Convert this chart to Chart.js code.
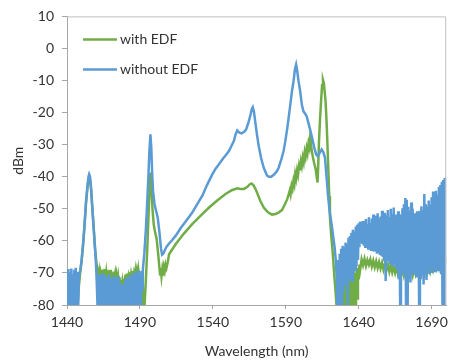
<!DOCTYPE html>
<html>
<head>
<meta charset="utf-8">
<script src="https://cdn.jsdelivr.net/npm/chart.js@4.4.0/dist/chart.umd.min.js"></script>
<style>
  body { margin: 0; background: #fff; }
</style>
</head>
<body>
<canvas id="spectrum" width="453" height="360"></canvas>
<script>
// axis ticks
const xTicks = [1440, 1490, 1540, 1590, 1640, 1690];
const yTicks = [-80, -70, -60, -50, -40, -30, -20, -10, 0, 10];
const seriesLabels = ['with EDF', 'without EDF'];

// with EDF : [wavelength nm, dBm]
const edfPeaks = [
  [1447,-85],[1447.3,-80],[1448,-75],[1449,-70],[1450,-66.5],[1451,-61.5],[1452,-55.5],[1453,-48.5],
  [1454,-43.5],[1454.8,-40.6],[1455.3,-40],[1455.9,-41],[1456.6,-44.5],[1457.4,-50],[1458.3,-56],
  [1459.2,-62],[1460.2,-67],[1461,-70]
];
const edfFloor = [
  [1461.5,-71],[1462,-69.5],[1462.5,-72],[1463,-70.2],[1463.5,-71.8],[1464,-69],[1464.5,-72.4],[1465,-70.4],
  [1465.5,-71.2],[1466,-68.8],[1466.5,-72],[1467,-69.8],[1467.5,-71.6],[1468,-69.2],[1468.5,-72.6],[1469,-70.6],
  [1469.5,-71.4],[1470,-69],[1470.5,-72.2],[1471,-70],[1471.5,-72.8],[1472,-69.6],[1472.5,-71.8],[1473,-70.4],
  [1473.5,-73],[1474,-70.8],[1474.5,-72.4],[1475,-71],[1475.5,-73.6],[1476,-71.4],[1476.5,-74],[1477,-72.2],
  [1477.5,-74.6],[1478,-72.6],[1478.5,-74.2],[1479,-71.8],[1479.5,-73.4],[1480,-70.6],[1480.5,-72.8],[1481,-70.2],
  [1481.5,-72],[1482,-71],[1482.5,-73],[1483,-69.8],[1483.5,-72.4],[1484,-70.4],[1484.5,-71.6],[1485,-69.4],
  [1485.5,-72],[1486,-70.2],[1486.5,-71.4],[1487,-69.6],[1487.5,-72.2],[1488,-70],[1488.5,-71.8],[1489,-69.2],
  [1489.5,-71],[1490,-70.4],[1490.5,-72.6],[1491,-71.5],[1491.5,-74],[1492,-78],[1492.5,-85]
];
const edfMain = [
  [1493.2,-80],[1494,-73],[1495,-63],[1496,-51],[1496.8,-42],[1497.3,-38.7],[1497.9,-43],[1498.6,-50],
  [1499.5,-55],[1500.5,-57.5],[1501.5,-59.5],[1502.5,-64],[1503.3,-68],[1503.8,-70.5],[1504.3,-68.5],
  [1504.8,-71],[1505.3,-69],[1505.8,-70.8],[1506.4,-68.2],[1507,-69.4],[1507.6,-67.4],[1508.2,-68.4],
  [1509,-66.8],[1510,-64.2],[1514.7,-60.9],[1520,-57.8],[1526,-54.7],[1532,-52],[1537.4,-49.6],[1543,-47.4],
  [1548.7,-45.4],[1553,-44.2],[1556.7,-43.6],[1559,-43.8],[1561.3,-43.8],[1563.5,-43.2],[1565.2,-42.4],
  [1566.5,-42.1],[1567.8,-42.6],[1569,-43.6],[1570.3,-44.9],[1572.5,-47.5],[1574.9,-49.6],[1577.8,-51.1],
  [1580.6,-51.8],[1583,-51.6],[1585,-51.2],[1587.4,-50.4],[1589.5,-48.5],[1591,-47],[1592,-45.5],
  [1592.8,-44.2],[1593.3,-45.4],[1594,-42.8],[1594.6,-43.8],[1595.3,-41.2],[1595.9,-42.4],[1596.5,-39.2],
  [1597.1,-40.6],[1597.8,-38],[1598.4,-39.4],[1599.1,-36.6],[1599.7,-38],[1600.4,-35.2],[1601,-36.6],
  [1601.7,-34],[1602.3,-35.4],[1603,-32.4],[1603.6,-33.8],[1604.3,-31.2],[1604.9,-32.6],[1605.6,-29.6],
  [1606.2,-30.8],[1606.7,-27.9],[1607.3,-30],[1608,-32.4],[1608.7,-34.1],[1609.5,-35.8],[1610.5,-37.6],
  [1611.2,-40],[1611.8,-41.8],[1612.3,-36],[1612.8,-28.9],[1613.5,-22],[1614.2,-16.5],[1614.9,-11.5],
  [1615.5,-9.8],[1616.1,-10.8],[1616.7,-13.5],[1617.3,-16.5],[1618,-23],[1618.5,-29],[1619.2,-38],
  [1619.8,-46],[1620.3,-52.7],[1621.2,-58.5],[1622,-62.5],[1622.6,-66.5],[1623.3,-71],[1624,-75],
  [1624.8,-80],[1625.2,-85]
];
const edfTail = [
  [1625.5,-76],[1626,-85],[1626.5,-75],[1627,-85],[1627.5,-74.4],[1628,-85],[1628.5,-73.6],[1629,-84],
  [1629.5,-73],[1630,-85],[1630.5,-72.6],[1631,-83],[1631.5,-73.2],[1632,-85],[1632.5,-72.2],[1633,-82],
  [1633.5,-71.8],[1634,-85],[1634.5,-71.4],[1635,-80],[1635.5,-70.8],[1636,-84],[1636.5,-70.6],[1637,-79],
  [1637.5,-70],[1638,-85],[1638.5,-69.4],[1639,-78],[1639.5,-68.4],[1640,-72],[1640.5,-67.4],[1641,-69],
  [1642,-65.8],[1643,-67.6],[1644,-65.6],[1645,-67.8],[1646,-66],[1647,-67.4],[1648,-65.8],[1649,-68],
  [1650,-66.2],[1651,-68.2],[1652,-66.4],[1653,-68.4],[1654,-66.6],[1655,-68.6],[1656,-66.8],[1657,-69],
  [1658,-67.2],[1659,-69.2],[1660,-67.4],[1661,-69.6],[1662,-67.6],[1663,-69.8],[1664,-68],[1665,-70],
  [1666,-68.2],[1667,-70.4],[1668,-68.4],[1669,-71],[1670,-68.6],[1671,-70.8],[1672,-68.8],[1673,-71.4],
  [1674,-68.6],[1675,-70.6],[1676,-68.8],[1677,-70.8],[1678,-68.6],[1679,-70.4],[1680,-68.8],[1681,-70.6],
  [1682,-68.4],[1683,-70.2],[1684,-68.6],[1685,-70.4],[1686,-68.2],[1687,-69.8],[1688,-67.8],[1689,-69.6],
  [1690,-67.6],[1691,-69.2],[1692,-67.4],[1693,-68.8],[1694,-67],[1695,-68.6],[1696,-66.6],[1697,-68],
  [1698,-66.2],[1699,-67.4],[1700,-65.6]
];

// without EDF : [wavelength nm, dBm]
const noEdfHead = [
  [1440,-69.5],[1440.5,-85],[1441,-68.8],[1441.5,-84],[1442,-69.8],[1442.5,-85],[1443,-68.6],[1443.5,-83],
  [1444,-70.4],[1444.5,-85],[1445,-69],[1445.5,-84],[1446,-68.4],[1446.5,-85],[1447,-69.6],[1447.5,-84],
  [1448.2,-71],[1449,-69.5],[1450,-66],[1451,-61],[1452,-55],[1453,-48],[1454,-43],[1454.7,-40],
  [1455.2,-39.2],[1455.8,-40],[1456.5,-43.5],[1457.2,-48.5],[1458,-54],[1459,-61],[1459.8,-66.5],
  [1460.4,-73],[1460.9,-80],[1461.3,-85]
];
const noEdfFloor = [
  [1462,-70.5],[1462.5,-85],[1463,-71.2],[1463.5,-85],[1464,-70.2],[1464.5,-84],[1465,-71.8],[1465.5,-85],
  [1466,-70.6],[1466.5,-85],[1467,-72],[1467.5,-83],[1468,-71],[1468.5,-85],[1469,-70.4],[1469.5,-85],
  [1470,-71.6],[1470.5,-84],[1471,-72.2],[1471.5,-85],[1472,-70.8],[1472.5,-85],[1473,-71.5],[1473.5,-82],
  [1474,-72.4],[1474.5,-85],[1475,-71.2],[1475.5,-85],[1476,-72.8],[1476.5,-84],[1477,-73.6],[1477.5,-85],
  [1478,-74.2],[1478.5,-85],[1479,-73.4],[1479.5,-85],[1480,-72],[1480.5,-83],[1481,-71.4],[1481.5,-85],
  [1482,-72.6],[1482.5,-85],[1483,-70.8],[1483.5,-84],[1484,-71.6],[1484.5,-85],[1485,-70.2],[1485.5,-85],
  [1486,-71],[1486.5,-83],[1487,-69.6],[1487.5,-85],[1488,-70.4],[1488.5,-85],[1489,-69.2],[1489.5,-84],
  [1490,-70],[1490.5,-85],[1491,-69.4],[1491.5,-75]
];
const noEdfMain = [
  [1492,-69],[1493,-64],[1494,-57],[1495,-48],[1495.8,-40],[1496.5,-32],[1497.2,-26.8],[1497.8,-31],
  [1498.4,-39],[1499,-44.5],[1500,-48.5],[1501,-50.5],[1502.2,-52.7],[1503.3,-57],[1504.5,-62.5],
  [1505.2,-64.3],[1506,-64],[1507,-63],[1508,-62],[1510,-60.8],[1512,-59.8],[1514.7,-58.3],[1518,-56],
  [1522,-53.6],[1526,-51.1],[1529,-48.8],[1532.8,-45.9],[1536,-42.6],[1539.7,-39.2],[1542,-37.4],
  [1544.2,-36.1],[1547,-34.3],[1549,-33.2],[1551,-32],[1553,-30.2],[1554.4,-28.9],[1555.6,-26.8],
  [1556.7,-25.6],[1558,-26.2],[1559.7,-26.5],[1561.5,-26],[1562.8,-25.3],[1564.5,-23],[1565.8,-20.7],
  [1566.8,-18.8],[1567.4,-18.3],[1568.2,-19.8],[1569.2,-23.3],[1570.3,-27],[1571.5,-30.5],[1573,-34],
  [1574.9,-37.2],[1577.1,-39.6],[1578.5,-40],[1580,-40],[1582,-39.3],[1584,-38.2],[1585.1,-37.2],
  [1587,-34.5],[1588.5,-32],[1589.7,-28.9],[1591,-25],[1592,-21.5],[1593.1,-17.6],[1594.2,-13.5],
  [1595.3,-10.3],[1596.3,-6.5],[1597.1,-5],[1597.8,-6.8],[1598.7,-10],[1599.9,-13.4],[1601,-17.5],
  [1602.1,-19.6],[1603.2,-20.3],[1604.4,-21.2],[1605.5,-23.2],[1606.7,-25.3],[1608.2,-28.2],[1609.6,-31],
  [1610.8,-33],[1611.9,-33.6],[1613,-32.8],[1614.6,-31.5],[1615.8,-32.4],[1616.9,-34.1],[1618,-40.3],
  [1619,-46],[1620,-50.5],[1621.4,-54.7],[1622.5,-58.5],[1623.5,-62],[1624.3,-66],[1625,-72]
];
const noEdfTail = [
  [1625.5,-85],[1626,-66],[1626.5,-85],[1627,-64],[1627.5,-85],[1628,-62.5],[1628.5,-84],[1629,-61.5],
  [1629.5,-76],[1630,-62],[1630.5,-74],[1631,-60.5],[1631.5,-73],[1632,-61],[1632.5,-80],[1633,-59],
  [1633.5,-72],[1634,-58.5],[1634.5,-71],[1635,-57.5],[1635.5,-72.5],[1636,-56.5],[1636.5,-70],[1637,-57],
  [1637.5,-69],[1638,-55.5],[1638.5,-68],[1639,-55],[1639.5,-66],[1640,-54.5],[1640.5,-62],[1641,-54],
  [1641.5,-60.5],[1642,-55.2],[1642.5,-61],[1643,-53.8],[1643.5,-61.5],[1644,-54.6],[1644.5,-61.8],
  [1645,-53.2],[1645.5,-62],[1646,-54.8],[1646.5,-62.4],[1647,-52.6],[1647.5,-62.2],[1648,-54.4],
  [1648.5,-62.8],[1649,-53],[1649.5,-63],[1650,-51.8],[1650.5,-63.4],[1651,-53.6],[1651.5,-63.2],
  [1652,-52.2],[1652.5,-64],[1653,-51.4],[1653.5,-63.8],[1654,-53],[1654.5,-64.4],[1655,-52.4],
  [1655.5,-64.6],[1656,-50.6],[1656.5,-65],[1657,-52.8],[1657.5,-66],[1658,-51.2],[1658.5,-72.5],
  [1659,-52],[1659.5,-65.6],[1660,-50.4],[1660.5,-66.4],[1661,-52.6],[1661.5,-67],[1662,-50],
  [1662.5,-66.8],[1663,-51.6],[1663.5,-68],[1664,-49.6],[1664.5,-67.2],[1665,-51.8],[1665.5,-68.4],
  [1666,-52.4],[1666.5,-69],[1667,-50.8],[1667.5,-72],[1668,-51.6],[1668.5,-85],[1669,-52],[1669.5,-70],
  [1670,-49.8],[1670.5,-69.4],[1671,-48.6],[1671.5,-71],[1672,-46.6],[1672.5,-85],[1673,-47.2],
  [1673.5,-85],[1674,-49.4],[1674.5,-70.2],[1675,-50.6],[1675.5,-73],[1676,-48],[1676.5,-69.6],
  [1677,-50],[1677.5,-70.6],[1678,-51.4],[1678.5,-69.8],[1679,-52.4],[1679.5,-71.4],[1680,-50.8],
  [1680.5,-70],[1681,-52],[1681.5,-85],[1682,-50.6],[1682.5,-72],[1683,-49.2],[1683.5,-70.4],
  [1684,-50.4],[1684.5,-73.6],[1685,-45.4],[1685.5,-69.6],[1686,-48.6],[1686.5,-72.2],[1687,-49.4],
  [1687.5,-69.2],[1688,-47.4],[1688.5,-70.4],[1689,-48.8],[1689.5,-68.8],[1690,-46.4],[1690.5,-70],
  [1691,-44.6],[1691.5,-68.4],[1692,-45.2],[1692.5,-69.4],[1693,-44.4],[1693.5,-67.8],[1694,-45.6],
  [1694.5,-69],[1695,-43.2],[1695.5,-68.2],[1696,-42.6],[1696.5,-70],[1697,-41.6],[1697.5,-85],
  [1698,-41],[1698.5,-85],[1699,-40.4],[1699.5,-85],[1700,-40.2]
];

const withEdf = edfPeaks.concat(edfFloor, edfMain, edfTail);
const withoutEdf = noEdfHead.concat(noEdfFloor, noEdfMain, noEdfTail);

function toPoints(list) {
  return list.map(function (p) { return { x: p[0], y: p[1] }; });
}

const textColor = '#333333';
const baseFont = { family: 'Lato', size: 14 };

// frame on top/right of the plot area + legend inside it
const framePlugin = {
  id: 'frame',
  afterDatasetsDraw(chart) {
    const a = chart.chartArea;
    const ctx = chart.ctx;
    ctx.save();
    ctx.strokeStyle = '#BFBFBF';
    ctx.lineWidth = 1;
    ctx.beginPath();
    ctx.moveTo(a.left, a.top + 0.5);
    ctx.lineTo(a.right - 0.5, a.top + 0.5);
    ctx.lineTo(a.right - 0.5, a.bottom);
    ctx.stroke();
    ctx.restore();
  },
  afterDraw(chart) {
    const ctx = chart.ctx;
    ctx.save();
    ctx.font = '14px Lato';
    ctx.textBaseline = 'middle';
    chart.data.datasets.forEach(function (ds, i) {
      const y = 39.5 + i * 30;
      ctx.strokeStyle = ds.borderColor;
      ctx.lineWidth = 2.5;
      ctx.beginPath();
      ctx.moveTo(83, y);
      ctx.lineTo(117, y);
      ctx.stroke();
      ctx.fillStyle = textColor;
      ctx.fillText(ds.label, 120, y);
    });
    ctx.restore();
  }
};

new Chart(document.getElementById('spectrum'), {
  type: 'line',
  data: {
    datasets: [
      {
        label: seriesLabels[0],
        data: toPoints(withEdf),
        borderColor: '#70AD47',
        borderWidth: 2.5,
        pointRadius: 0,
        tension: 0,
        order: 1,
        clip: 0
      },
      {
        label: seriesLabels[1],
        data: toPoints(withoutEdf),
        borderColor: '#5B9BD5',
        borderWidth: 2.5,
        pointRadius: 0,
        tension: 0,
        order: 0,
        clip: 0
      }
    ]
  },
  options: {
    responsive: false,
    animation: false,
    layout: { padding: { top: 14, right: 4, left: 0, bottom: 0 } },
    plugins: {
      legend: { display: false },
      tooltip: { enabled: false }
    },
    scales: {
      x: {
        type: 'linear',
        min: 1440,
        max: 1700,
        afterBuildTicks: function (scale) {
          scale.ticks = xTicks.map(function (v) { return { value: v }; });
        },
        afterFit: function (scale) { scale.height = 55; },
        grid: { drawOnChartArea: false, drawTicks: true, tickLength: 4, color: '#A6A6A6' },
        border: { display: true, color: '#A6A6A6' },
        ticks: {
          color: textColor,
          font: baseFont,
          padding: 5,
          maxRotation: 0,
          callback: function (v) { return String(v); }
        },
        title: {
          display: true,
          text: 'Wavelength (nm)',
          color: textColor,
          font: baseFont,
          padding: { top: 0, bottom: 0 }
        }
      },
      y: {
        min: -80,
        max: 10,
        afterBuildTicks: function (scale) {
          scale.ticks = yTicks.map(function (v) { return { value: v }; });
        },
        afterFit: function (scale) { scale.width = 67; },
        grid: { drawOnChartArea: false, drawTicks: true, tickLength: 5, color: '#A6A6A6' },
        border: { display: true, color: '#A6A6A6' },
        ticks: {
          color: textColor,
          font: baseFont,
          padding: 8,
          callback: function (v) { return String(v); }
        },
        title: {
          display: true,
          text: 'dBm',
          color: textColor,
          font: baseFont,
          padding: { top: 10, bottom: 0 }
        }
      }
    }
  },
  plugins: [framePlugin]
});
</script>
</body>
</html>
